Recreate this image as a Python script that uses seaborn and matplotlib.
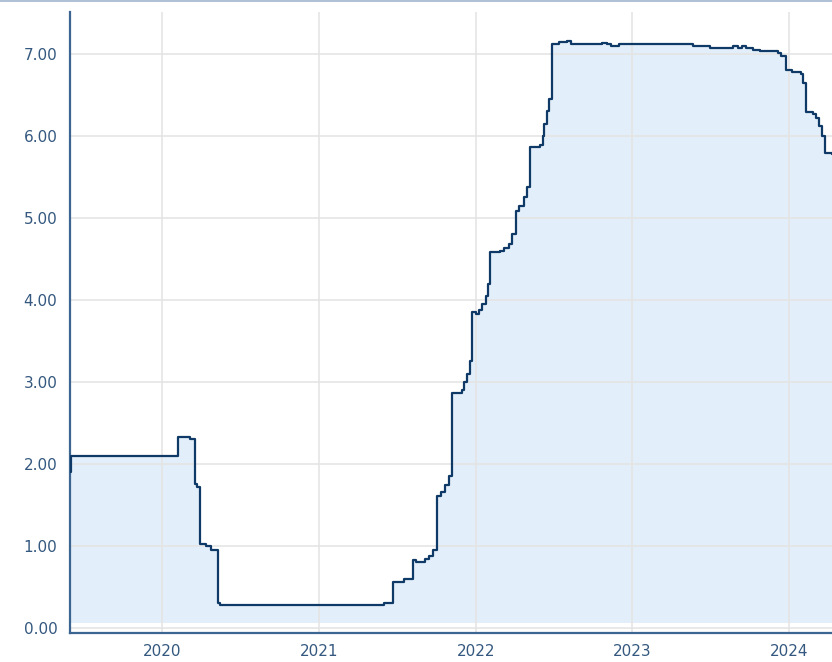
#!/usr/bin/env python3
"""Step-area chart of a policy-like rate, 2019-2024."""

import matplotlib.dates as mdates
import matplotlib.pyplot as plt
import pandas as pd
import seaborn as sns

# Values (change dates, level from that date on)
dates = [
    "2019-06-01", "2019-06-03", "2020-02-07", "2020-03-06", "2020-03-18",
    "2020-03-22", "2020-03-29", "2020-04-12", "2020-04-24", "2020-05-10",
    "2020-05-15", "2021-06-01", "2021-06-22", "2021-07-18", "2021-08-08",
    "2021-08-15", "2021-09-05", "2021-09-14", "2021-09-23", "2021-10-02",
    "2021-10-12", "2021-10-21", "2021-10-30", "2021-11-06", "2021-11-30",
    "2021-12-04", "2021-12-11", "2021-12-18", "2021-12-23", "2022-01-01",
    "2022-01-08", "2022-01-15", "2022-01-24", "2022-01-29", "2022-02-03",
    "2022-02-26", "2022-03-09", "2022-03-19", "2022-03-26", "2022-04-04",
    "2022-04-13", "2022-04-23", "2022-04-30", "2022-05-07", "2022-05-30",
    "2022-06-06", "2022-06-10", "2022-06-15", "2022-06-20", "2022-06-27",
    "2022-07-15", "2022-08-01", "2022-08-10", "2022-10-23", "2022-11-02",
    "2022-11-13", "2022-12-02", "2023-05-23", "2023-07-01", "2023-08-24",
    "2023-09-05", "2023-09-14", "2023-09-23", "2023-10-09", "2023-10-26",
    "2023-12-07", "2023-12-14", "2023-12-25", "2024-01-08", "2024-01-29",
    "2024-02-03", "2024-02-10", "2024-02-26", "2024-03-04", "2024-03-11",
    "2024-03-18", "2024-03-25", "2024-04-10",
]
rates = [
    1.90, 2.10, 2.33, 2.30, 1.76,
    1.72, 1.03, 1.00, 0.95, 0.31,
    0.28, 0.31, 0.56, 0.60, 0.83,
    0.80, 0.84, 0.88, 0.95, 1.61,
    1.66, 1.75, 1.85, 2.86, 2.90,
    3.00, 3.10, 3.25, 3.85, 3.83,
    3.88, 3.95, 4.05, 4.20, 4.58,
    4.60, 4.63, 4.68, 4.80, 5.09,
    5.15, 5.25, 5.38, 5.87, 5.89,
    6.00, 6.15, 6.30, 6.45, 7.12,
    7.14, 7.16, 7.12, 7.13, 7.12,
    7.10, 7.12, 7.10, 7.07, 7.09,
    7.07, 7.09, 7.07, 7.05, 7.04,
    7.01, 6.97, 6.80, 6.78, 6.75,
    6.65, 6.29, 6.27, 6.22, 6.12,
    6.00, 5.79, 5.78,
]
y_ticks = [0, 1, 2, 3, 4, 5, 6, 7]
x_years = [2020, 2021, 2022, 2023, 2024]

LINE = "#0f3a68"
FILL = "#e2eef9"
AXIS = "#3d6591"
LABEL = "#34587f"
GRID = "#e4e4e4"


def main():
    df = pd.DataFrame({"date": pd.to_datetime(dates), "rate": rates})

    sns.set_style("white")
    plt.rcParams["font.family"] = ["DejaVu Sans"]

    fig = plt.figure(figsize=(8.32, 6.62), dpi=100)
    ax = fig.add_axes([70 / 832, 1 - 633 / 662, 1 - 70 / 832, (633 - 12) / 662])

    # area under the curve sits below the grid, the line above it
    ax.fill_between(df["date"], df["rate"], 0.06, step="post",
                    color=FILL, linewidth=0, zorder=0.2)
    sns.lineplot(data=df, x="date", y="rate", drawstyle="steps-post",
                 color=LINE, linewidth=1.6, ax=ax, zorder=3)

    ax.set_xlim(df["date"].iloc[0], df["date"].iloc[-1])
    ax.set_ylim(-0.06, 7.51)

    ax.set_yticks(y_ticks)
    ax.set_yticklabels([f"{v:.2f}" for v in y_ticks])
    ax.set_xticks([pd.Timestamp(f"{y}-01-01") for y in x_years])
    ax.xaxis.set_major_formatter(mdates.DateFormatter("%Y"))

    ax.set_axisbelow(True)
    ax.grid(True, color=GRID, linewidth=1.3, alpha=0.9)
    for gl in ax.get_xgridlines() + ax.get_ygridlines():
        gl.set_zorder(0.5)
    ax.tick_params(axis="both", length=0, labelsize=11, labelcolor=LABEL)
    ax.tick_params(axis="y", pad=9)
    ax.tick_params(axis="x", pad=8)
    ax.set(xlabel="", ylabel="")

    for side in ("top", "right"):
        ax.spines[side].set_visible(False)
    for side in ("left", "bottom"):
        ax.spines[side].set_color(AXIS)
        ax.spines[side].set_linewidth(1.6)

    # thin frame line along the top edge of the picture
    fig.add_artist(plt.Line2D([0, 1], [0.999, 0.999], color="#9fb5cc",
                              linewidth=1.2, transform=fig.transFigure))

    fig.savefig("out.png", dpi=100)


if __name__ == "__main__":
    main()
